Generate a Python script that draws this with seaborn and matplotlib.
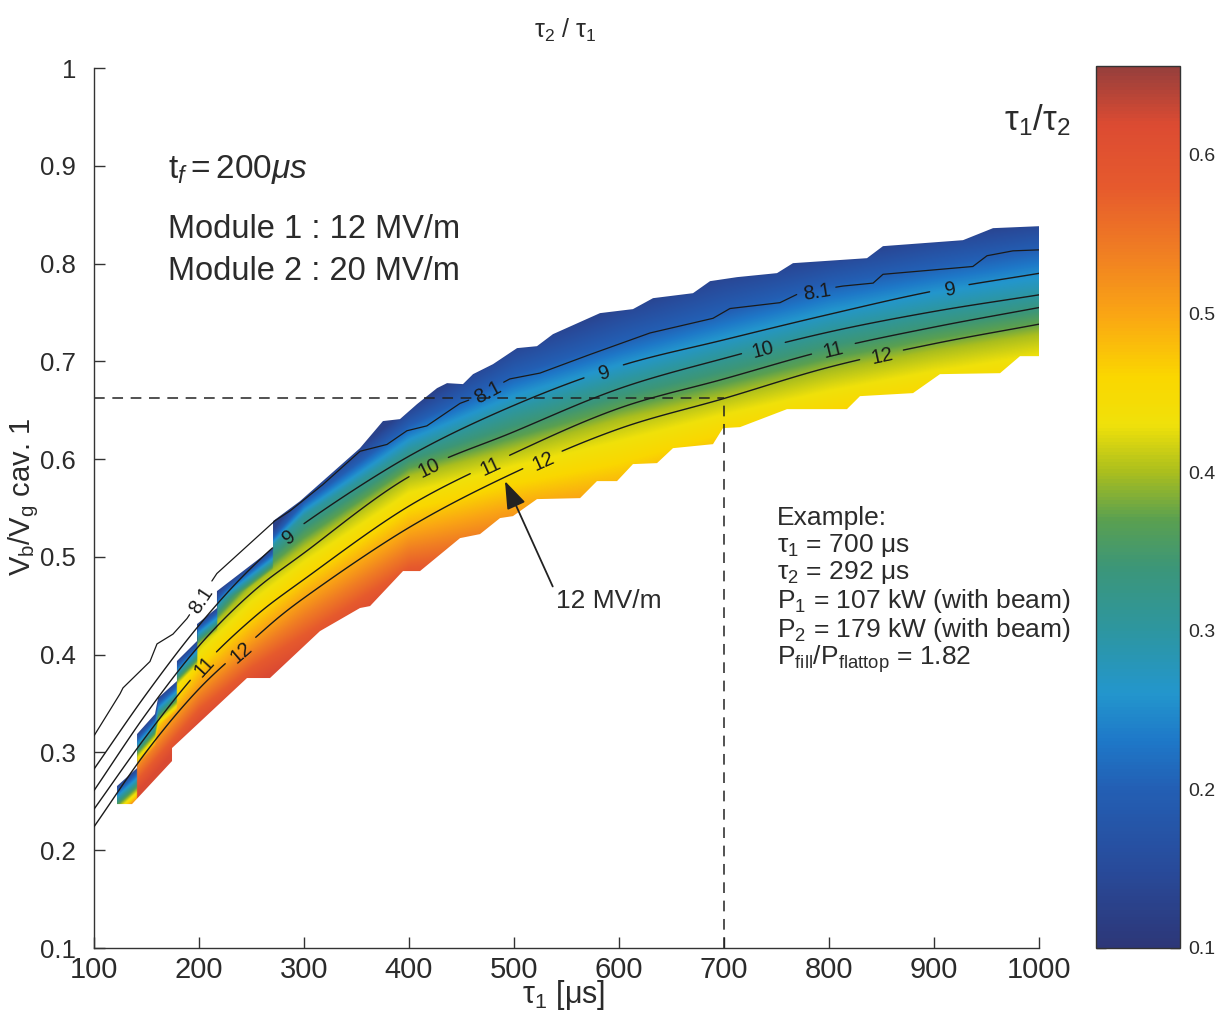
import numpy as np
import matplotlib
matplotlib.use("Agg")
import matplotlib.pyplot as plt
import seaborn as sns
from matplotlib.colors import LinearSegmentedColormap
from matplotlib.patches import Polygon

# ---------------- data ----------------
# smooth contour lines: V_b/V_g at tau1 nodes
line_tau = [100, 150, 200, 250, 300, 400, 500, 600, 700, 800, 900, 1000]
v_c9  = [0.283, 0.360, 0.430, 0.489, 0.534, 0.603, 0.655, 0.695, 0.722, 0.748, 0.772, 0.790]
v_c10 = [0.261, 0.340, 0.409, 0.463, 0.504, 0.582, 0.628, 0.672, 0.703, 0.730, 0.751, 0.768]
v_c11 = [0.242, 0.317, 0.384, 0.436, 0.477, 0.552, 0.606, 0.652, 0.682, 0.712, 0.735, 0.755]
v_c12 = [0.224, 0.301, 0.365, 0.414, 0.458, 0.530, 0.586, 0.631, 0.662, 0.694, 0.718, 0.738]

# jagged 8.1 contour
tau_c81 = [100, 124.8, 127.6, 153.3, 160, 175.2, 188.6, 217, 272.4, 286.7, 318, 353.3, 379,
           398, 417, 448.6, 461, 496, 524.8, 572.4, 629.5, 689.5, 705.7, 753.3, 772.4, 813.3,
           842, 851.4, 937, 950.5, 975.2, 1000]
v_c81 = [0.317, 0.360, 0.366, 0.393, 0.411, 0.421, 0.437, 0.483, 0.537, 0.547, 0.574, 0.608,
         0.615, 0.629, 0.634, 0.657, 0.662, 0.682, 0.688, 0.707, 0.729, 0.744, 0.754, 0.760,
         0.770, 0.777, 0.780, 0.789, 0.797, 0.808, 0.813, 0.814]

# contour label positions (tau1)
lab_c81 = [201, 474, 788]
lab_c9 = [285, 586, 915]
lab_c10 = [418, 737]
lab_c11 = [204, 477, 804]
lab_c12 = [239, 527, 850]

# staircase edges of the coloured region
top_tau = [121.9, 141.0, 141.0, 158.1, 161.0, 179.0, 179.0, 198.1, 198.1, 217.1, 217.1, 270.5,
           270.5, 296.2, 353.3, 375.2, 391.4, 407.6, 426.7, 436.2, 451.4, 461.0, 480.0, 502.9,
           521.9, 537.1, 581.9, 613.3, 632.4, 670.5, 686.7, 712.4, 750.5, 765.7, 836.2, 851.4,
           927.6, 956.2, 1000.0]
top_v = [0.2656, 0.284, 0.3188, 0.3393, 0.3556, 0.373, 0.3935, 0.4139, 0.4313, 0.4477, 0.465,
         0.509, 0.5366, 0.557, 0.6112, 0.6389, 0.6409, 0.6562, 0.6726, 0.6777, 0.6767, 0.6869,
         0.6971, 0.7135, 0.7155, 0.7278, 0.7493, 0.7534, 0.7646, 0.7697, 0.782, 0.7861, 0.7902,
         0.8004, 0.8055, 0.8178, 0.8239, 0.8362, 0.8382]
bot_tau = [121.9, 136.2, 174.3, 174.3, 245.7, 267.6, 315.2, 353.3, 362.9, 394.3, 410.5, 448.6,
           467.6, 486.7, 499.0, 521.9, 562.9, 579.0, 598.1, 613.3, 636.2, 651.4, 689.5, 699.0,
           715.2, 760.0, 817.1, 829.5, 880.0, 905.7, 962.9, 981.9, 1000.0]
bot_v = [0.2472, 0.2472, 0.2912, 0.3045, 0.3761, 0.3761, 0.4241, 0.4477, 0.4497, 0.4855, 0.4855,
         0.5192, 0.5233, 0.5397, 0.5417, 0.5591, 0.5601, 0.5775, 0.5775, 0.5949, 0.5959, 0.6112,
         0.6153, 0.6317, 0.6327, 0.6511, 0.6511, 0.6644, 0.6675, 0.6869, 0.6879, 0.7053, 0.7053]

# iso-colour curves of tau1/tau2 (V at tau nodes for each colour level)
iso_tau = [100, 150, 200, 250, 300, 400, 500, 600, 700, 800, 900, 1000]
iso_levels = [0.13, 0.20, 0.30, 0.40, 0.50, 0.62]
iso_v013 = [0.270, 0.345, 0.445, 0.500, 0.567, 0.652, 0.718, 0.757, 0.790, 0.810, 0.830, 0.845]
iso_v020 = [0.265, 0.340, 0.435, 0.495, 0.555, 0.634, 0.686, 0.720, 0.750, 0.778, 0.797, 0.814]
iso_v030 = [0.260, 0.335, 0.425, 0.490, 0.542, 0.610, 0.650, 0.680, 0.707, 0.733, 0.752, 0.767]
iso_v040 = [0.252, 0.325, 0.415, 0.470, 0.510, 0.582, 0.610, 0.640, 0.664, 0.690, 0.710, 0.727]
iso_v050 = [0.237, 0.305, 0.370, 0.417, 0.458, 0.525, 0.550, 0.565, 0.600, 0.620, 0.640, 0.655]
iso_v062 = [0.215, 0.270, 0.330, 0.370, 0.400, 0.470, 0.480, 0.490, 0.520, 0.545, 0.560, 0.575]

# worked example
ex_tau1 = 700
ex_v = 0.662

x_ticks = [100, 200, 300, 400, 500, 600, 700, 800, 900, 1000]
y_ticks = [0.1, 0.2, 0.3, 0.4, 0.5, 0.6, 0.7, 0.8, 0.9, 1.0]
y_ticklabels = ["0.1", "0.2", "0.3", "0.4", "0.5", "0.6", "0.7", "0.8", "0.9", "1"]
cb_ticks = [0.1, 0.2, 0.3, 0.4, 0.5, 0.6]
cb_range = (0.1, 0.656)

cmap_vals = [0.10, 0.15, 0.20, 0.23, 0.26, 0.30, 0.34, 0.37, 0.40, 0.43, 0.46, 0.50, 0.54,
             0.58, 0.62, 0.656]
cmap_cols = ['#2d3778', '#284b9b', '#235fb4', '#1e78c8', '#2396cd', '#2d96a0', '#3c9678',
             '#5aa050', '#aabe1e', '#f0e10a', '#fad700', '#faa514', '#f07d23', '#e65a2d',
             '#dc4b32', '#963f3c']

example_lines = ["Example:",
                 r"τ$_1$ = 700 μs",
                 r"τ$_2$ = 292 μs",
                 r"P$_1$ = 107 kW (with beam)",
                 r"P$_2$ = 179 kW (with beam)",
                 r"P$_\mathrm{fill}$/P$_\mathrm{flattop}$ = 1.82"]

# ---------------- style ----------------
sns.set_style("ticks", {"xtick.direction": "in", "ytick.direction": "in"})
plt.rcParams["font.family"] = ["Liberation Sans", "DejaVu Sans"]
plt.rcParams["mathtext.fontset"] = "custom"
plt.rcParams["mathtext.rm"] = "Liberation Sans"
plt.rcParams["mathtext.it"] = "Liberation Sans:italic"
plt.rcParams["mathtext.bf"] = "Liberation Sans:bold"
TXT = "#2b2b2b"

W, H = 1227, 1016
fig = plt.figure(figsize=(W / 100, H / 100), dpi=100)
ax = fig.add_axes([94 / W, 1 - 948 / H, (1039 - 94) / W, (948 - 68) / H])
ax.set_xlim(100, 1000)
ax.set_ylim(0.1, 1.0)

cmap = LinearSegmentedColormap.from_list(
    "scan_jet",
    [((v - cb_range[0]) / (cb_range[1] - cb_range[0]), c) for v, c in zip(cmap_vals, cmap_cols)])

# ---------------- colour field ----------------
tg = np.linspace(100, 1000, 1801)
vg = np.linspace(0.2, 0.9, 1401)
iso_rows = np.array([iso_v013, iso_v020, iso_v030, iso_v040, iso_v050, iso_v062])
isoV = np.array([np.interp(tg, iso_tau, row) for row in iso_rows])
lev = np.array(iso_levels)
C = np.empty((vg.size, tg.size))
for j in range(tg.size):
    C[:, j] = np.interp(vg, isoV[::-1, j], lev[::-1])
vtop = np.interp(tg, top_tau, top_v)
C = np.minimum(C, 0.13 + 12.0 * (vtop[None, :] - vg[:, None]))
C = np.clip(C, 0.11, 0.65)

im = ax.imshow(C, origin="lower", extent=[100, 1000, 0.2, 0.9], aspect="auto", cmap=cmap,
               vmin=cb_range[0], vmax=cb_range[1], interpolation="bilinear", zorder=1)
band = np.column_stack([np.r_[top_tau, bot_tau[::-1]], np.r_[top_v, bot_v[::-1]]])
poly = Polygon(band, closed=True, transform=ax.transData, facecolor="none", edgecolor="none")
ax.add_patch(poly)
im.set_clip_path(poly)


# ---------------- contour lines ----------------
def catmull(xs, ys, n=24):
    pts = np.column_stack([xs, ys]).astype(float)
    P = np.vstack([2 * pts[0] - pts[1], pts, 2 * pts[-1] - pts[-2]])
    out = []
    t = np.linspace(0, 1, n, endpoint=False)[:, None]
    for i in range(1, len(P) - 2):
        p0, p1, p2, p3 = P[i - 1], P[i], P[i + 1], P[i + 2]
        out.append(0.5 * ((2 * p1) + (-p0 + p2) * t + (2 * p0 - 5 * p1 + 4 * p2 - p3) * t ** 2
                          + (-p0 + 3 * p1 - 3 * p2 + p3) * t ** 3))
    out.append(pts[-1:])
    return np.vstack(out)


def linear(xs, ys, n=12):
    out = []
    for i in range(len(xs) - 1):
        t = np.linspace(0, 1, n, endpoint=False)
        out.append(np.column_stack([xs[i] + (xs[i + 1] - xs[i]) * t, ys[i] + (ys[i + 1] - ys[i]) * t]))
    out.append(np.array([[xs[-1], ys[-1]]]))
    return np.vstack(out)


def draw_contour(pts, labels, text, lw=1.0, gap=19):
    disp = ax.transData.transform(pts)
    keep = np.ones(len(pts), bool)
    for tl in labels:
        vl = np.interp(tl, pts[:, 0], pts[:, 1])
        d0 = ax.transData.transform((tl, vl))
        keep &= np.hypot(disp[:, 0] - d0[0], disp[:, 1] - d0[1]) > gap
        a = ax.transData.transform((tl - 10, np.interp(tl - 10, pts[:, 0], pts[:, 1])))
        b = ax.transData.transform((tl + 10, np.interp(tl + 10, pts[:, 0], pts[:, 1])))
        ang = np.degrees(np.arctan2(b[1] - a[1], b[0] - a[0]))
        ax.text(tl, vl, text, rotation=ang, rotation_mode="anchor", ha="center",
                va="center_baseline", fontsize=14.5, color="#1a1a1a", zorder=4)
    idx = np.where(keep)[0]
    groups = np.split(idx, np.where(np.diff(idx) > 1)[0] + 1)
    for g in groups:
        if len(g) > 1:
            sns.lineplot(x=pts[g, 0], y=pts[g, 1], ax=ax, color="#1a1a1a", lw=lw,
                         sort=False, estimator=None, legend=False, zorder=3)


draw_contour(linear(tau_c81, v_c81), lab_c81, "8.1", lw=0.9)
draw_contour(catmull(line_tau, v_c9), lab_c9, "9")
draw_contour(catmull(line_tau, v_c10), lab_c10, "10")
draw_contour(catmull(line_tau, v_c11), lab_c11, "11")
draw_contour(catmull(line_tau, v_c12), lab_c12, "12")

# dashed guide lines for the example
ax.plot([100, ex_tau1], [ex_v, ex_v], color="#222222", lw=1.1, ls=(0, (7, 5)), zorder=2)
ax.plot([ex_tau1, ex_tau1], [0.1, ex_v], color="#222222", lw=1.1, ls=(0, (7, 5)), zorder=2)

# arrow annotation
ax.annotate("12 MV/m", xy=(491.4, 0.5775), xytext=(540, 0.455), ha="left", va="center",
            fontsize=19, color=TXT, zorder=5,
            arrowprops=dict(arrowstyle="-|>,head_length=0.9,head_width=0.32", color="#222222",
                            lw=1.3, shrinkA=0, shrinkB=0, relpos=(0.0, 0.8)))

# ---------------- axes styling ----------------
sns.despine(ax=ax)
ax.set_xticks(x_ticks)
ax.set_xticklabels([str(t) for t in x_ticks])
ax.set_yticks(y_ticks)
ax.set_yticklabels(y_ticklabels)
ax.tick_params(axis="both", direction="in", length=8, width=1,
               colors="#333333", labelcolor=TXT)
ax.tick_params(axis="x", pad=6, labelsize=21)
ax.tick_params(axis="y", pad=13, labelsize=18.5)
for s in ["left", "bottom"]:
    ax.spines[s].set_color("#333333")
    ax.spines[s].set_linewidth(1.0)
ax.set_facecolor("white")

# ---------------- colour bar ----------------
cax = fig.add_axes([1096 / W, 1 - 948 / H, (1180 - 1096) / W, (948 - 66) / H])
cb = fig.colorbar(im, cax=cax)
cb.set_ticks(cb_ticks)
cb.set_ticklabels([f"{t:.1f}" for t in cb_ticks])
cax.tick_params(direction="in", length=7, width=1, left=True, right=True, labelsize=14,
                colors="#333333", labelcolor=TXT, pad=6)
cb.outline.set_linewidth(1.0)
cb.outline.set_edgecolor("#333333")

# ---------------- texts ----------------
fig.text(565 / W, 1 - 30 / H, r"τ$_2$ / τ$_1$", ha="center", va="center", fontsize=18, color=TXT)
fig.text(1037 / W, 1 - 120 / H, r"τ$_1$/τ$_2$", ha="center", va="center", fontsize=25, color=TXT)
fig.text(168 / W, 1 - 170 / H, r"$\mathrm{t}_f = \mathit{200\mu s}$", ha="left", va="center",
         fontsize=24, color=TXT)
fig.text(168 / W, 1 - 230 / H, "Module 1 : 12 MV/m", ha="left", va="center", fontsize=23.5, color=TXT)
fig.text(168 / W, 1 - 272 / H, "Module 2 : 20 MV/m", ha="left", va="center", fontsize=23.5, color=TXT)

ex_baselines = [525, 552, 579, 608, 637, 665]
for txt, yb in zip(example_lines, ex_baselines):
    fig.text(777 / W, 1 - yb / H, txt, ha="left", va="baseline", fontsize=19, color=TXT)

fig.text(564 / W, 1 - 995 / H, r"τ$_1$ [μs]", ha="center", va="center", fontsize=22, color=TXT)
fig.text(24 / W, 1 - 497 / H, r"V$_\mathrm{b}$/V$_\mathrm{g}$ cav. 1", ha="center", va="center",
         rotation=90, fontsize=21, color=TXT)

fig.savefig("out.png", dpi=100, facecolor="white")
